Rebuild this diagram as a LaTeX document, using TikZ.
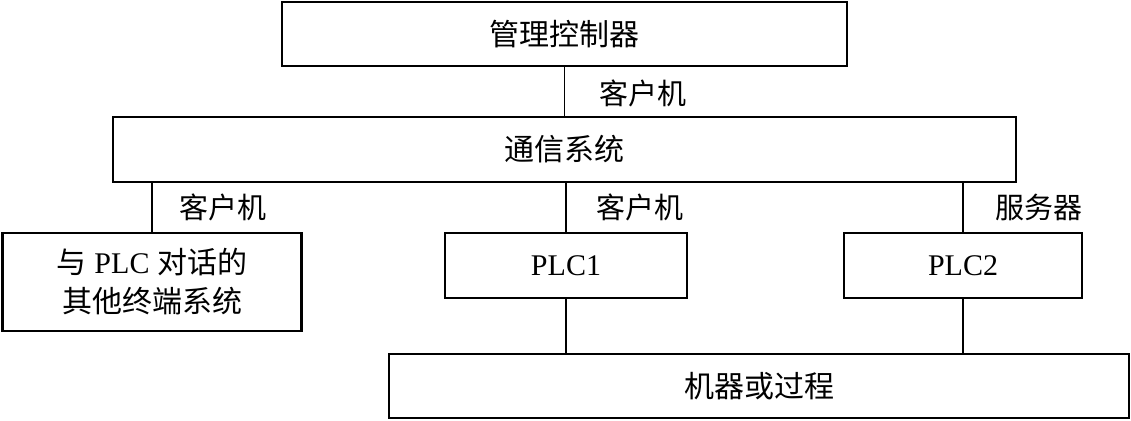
\documentclass[tikz,border=0pt]{standalone}
\usepackage{fontspec}
\setmainfont{Liberation Serif}
\newfontfamily\cjk{Noto Sans CJK SC}
\begin{document}
\begin{tikzpicture}[x=1pt,y=-1pt,
  box/.style={draw, line width=2.4pt, inner sep=0pt, outer sep=0pt, font=\fontsize{30}{39}\selectfont, align=center},
  conn/.style={line width=1.3pt},
  lbl/.style={inner sep=0pt, font=\fontsize{29}{35}\selectfont\cjk}]
\useasboundingbox (0,0) rectangle (1131,420);
\node[box, minimum width=565pt, minimum height=64pt] (mgr) at (564.5,34) {\cjk 管理控制器};
\node[box, minimum width=903pt, minimum height=65pt] (comm) at (564.5,149.5) {\cjk 通信系统};
\node[box, minimum width=299pt, minimum height=98pt] (other) at (152,282) {{\cjk 与} PLC {\cjk 对话的}\\{\cjk 其他终端系统}};
\node[box, minimum width=242pt, minimum height=65pt] (plca) at (566,265.5) {PLC1};
\node[box, minimum width=238pt, minimum height=65pt] (plcb) at (963,265.5) {PLC2};
\node[box, minimum width=740pt, minimum height=64pt] (mach) at (759,386) {\cjk 机器或过程};
\draw[conn] (mgr.south) -- (comm.north);
\draw[conn] (other.north) -- (other.north |- comm.south);
\draw[conn] (plca.north) -- (plca.north |- comm.south);
\draw[conn] (plcb.north) -- (plcb.north |- comm.south);
\draw[conn] (plca.south) -- (plca.south |- mach.north);
\draw[conn] (plcb.south) -- (plcb.south |- mach.north);
\node[lbl] (l1) at (643,93) {客户机};
\node[lbl] (l2) at (223,207) {客户机};
\node[lbl] (l3) at (640,207) {客户机};
\node[lbl] (l4) at (1039,207) {服务器};
\end{tikzpicture}
\end{document}
